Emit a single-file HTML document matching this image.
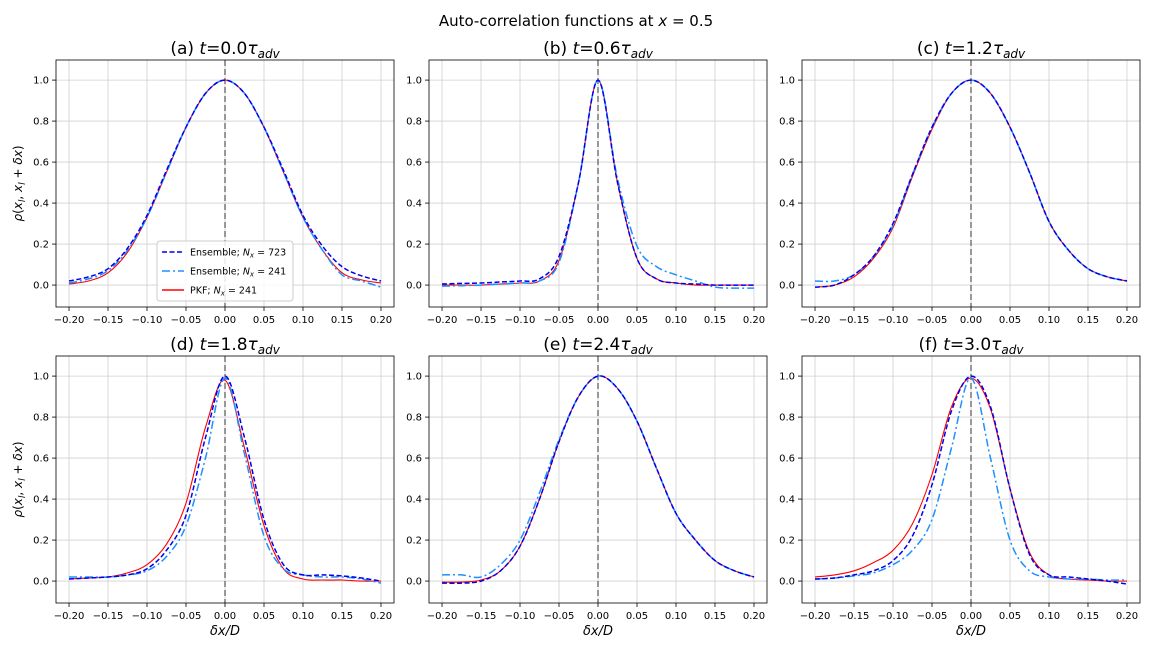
<!DOCTYPE html>
<html><head><meta charset="utf-8"><style>
body{margin:0;background:#fff;font-family:"Liberation Sans","DejaVu Sans",sans-serif}
svg text{font-family:"DejaVu Sans","Liberation Sans",sans-serif}
</style></head><body>
<svg id="fig" width="1152" height="648" xmlns="http://www.w3.org/2000/svg">
<rect width="1152" height="648" fill="#fff"/>
<text x="576" y="26" font-size="15" text-anchor="middle">Auto-correlation functions at <tspan font-style="italic">x</tspan> = 0.5</text>
</svg>
<script>
const xs=[-0.2,-0.175,-0.15,-0.125,-0.1,-0.075,-0.05,-0.025,0,0.025,0.05,0.075,0.1,0.125,0.15,0.175,0.2];
const xTicks=[-0.2,-0.15,-0.1,-0.05,0,0.05,0.1,0.15,0.2];
const xTickLabels=["−0.20","−0.15","−0.10","−0.05","0.00","0.05","0.10","0.15","0.20"];
const yTicks=[0,0.2,0.4,0.6,0.8,1.0];
const yTickLabels=["0.0","0.2","0.4","0.6","0.8","1.0"];
const panelTitles=["(a)","(b)","(c)","(d)","(e)","(f)"];
const panelTimes=["0.0","0.6","1.2","1.8","2.4","3.0"];
const ens723=[
[0.02,0.04,0.08,0.18,0.34,0.56,0.77,0.935,1,0.935,0.77,0.56,0.34,0.19,0.09,0.045,0.02],
[0.005,0.008,0.01,0.015,0.02,0.03,0.14,0.5,1,0.5,0.13,0.03,0.01,0.005,0,0,0],
[-0.01,0.0,0.05,0.14,0.3,0.54,0.77,0.935,1,0.935,0.77,0.55,0.31,0.17,0.08,0.04,0.02],
[0.01,0.015,0.02,0.03,0.06,0.15,0.32,0.7,1,0.7,0.3,0.08,0.03,0.03,0.025,0.015,0.0],
[-0.01,-0.01,0.0,0.05,0.17,0.4,0.68,0.9,1,0.94,0.78,0.55,0.33,0.2,0.1,0.05,0.02],
[0.01,0.015,0.03,0.05,0.1,0.22,0.47,0.83,1,0.85,0.45,0.13,0.03,0.02,0.01,0.0,-0.015]];
const ens241=[
[0.01,0.03,0.07,0.17,0.33,0.55,0.77,0.935,1,0.935,0.77,0.55,0.33,0.17,0.05,0.02,-0.01],
[-0.005,-0.003,0,0.005,0.01,0.02,0.11,0.5,1,0.52,0.19,0.09,0.05,0.02,-0.01,-0.015,-0.015],
[0.02,0.02,0.05,0.14,0.29,0.54,0.77,0.935,1,0.935,0.77,0.55,0.31,0.17,0.08,0.04,0.02],
[0.02,0.02,0.02,0.03,0.05,0.12,0.27,0.6,0.99,0.62,0.22,0.06,0.03,0.02,0.02,0.01,-0.01],
[0.03,0.03,0.02,0.08,0.2,0.43,0.69,0.9,1,0.94,0.78,0.55,0.33,0.2,0.1,0.05,0.02],
[0.01,0.015,0.025,0.04,0.08,0.15,0.3,0.65,0.99,0.6,0.2,0.05,0.02,0.01,0.01,0.005,0.005]];
const pkf=[
[0.005,0.02,0.06,0.16,0.33,0.55,0.77,0.935,1,0.935,0.77,0.55,0.33,0.17,0.06,0.025,0.01],
[0,0,0,0.005,0.01,0.02,0.12,0.5,1,0.5,0.13,0.03,0.01,0,0,0,0],
[-0.01,0.0,0.04,0.13,0.28,0.53,0.76,0.935,1,0.935,0.77,0.55,0.31,0.17,0.08,0.04,0.02],
[0.01,0.015,0.02,0.04,0.08,0.18,0.38,0.75,0.98,0.65,0.27,0.06,0.01,0.005,0.005,0.0,0.0],
[-0.005,-0.005,0.005,0.05,0.17,0.4,0.68,0.9,1,0.94,0.78,0.55,0.33,0.2,0.1,0.05,0.02],
[0.02,0.03,0.05,0.09,0.15,0.28,0.52,0.85,0.99,0.84,0.45,0.14,0.03,0.01,0.005,0,0]];
const NS="http://www.w3.org/2000/svg";
const svg=document.getElementById('fig');
function mk(t,a,p){const e=document.createElementNS(NS,t);for(const k in a)e.setAttribute(k,a[k]);(p||svg).appendChild(e);return e;}
const lefts=[56,429,802],tops=[60,356],W=338,H=247;
const xmin=-0.2167,xmax=0.2167,ymin=-0.107,ymax=1.098;
function smooth(pts){let d="M"+pts[0][0]+","+pts[0][1];
for(let i=0;i<pts.length-1;i++){const p0=pts[Math.max(i-1,0)],p1=pts[i],p2=pts[i+1],p3=pts[Math.min(i+2,pts.length-1)];
const c1=[p1[0]+(p2[0]-p0[0])/6,p1[1]+(p2[1]-p0[1])/6],c2=[p2[0]-(p3[0]-p1[0])/6,p2[1]-(p3[1]-p1[1])/6];
d+=" C"+c1[0].toFixed(1)+","+c1[1].toFixed(1)+" "+c2[0].toFixed(1)+","+c2[1].toFixed(1)+" "+p2[0].toFixed(1)+","+p2[1].toFixed(1);}return d;}
for(let p=0;p<6;p++){
 const L=lefts[p%3],T=tops[Math.floor(p/3)];
 const sx=v=>L+(v-xmin)/(xmax-xmin)*W, sy=v=>T+H-(v-ymin)/(ymax-ymin)*H;
 const g=mk('g',{});
 
 
 xTicks.forEach((v,i)=>{const x=sx(v);
  mk('line',{x1:x,x2:x,y1:T,y2:T+H,stroke:'#d0d0d0','stroke-width':0.8},g);
  mk('line',{x1:x,x2:x,y1:T+H,y2:T+H+4,stroke:'#000','stroke-width':0.8},g);
  const t=mk('text',{x:x,y:T+H+16,'font-size':10,'text-anchor':'middle'},g);t.textContent=xTickLabels[i];
  
  });
 yTicks.forEach((v,i)=>{const y=sy(v);
  mk('line',{x1:L,x2:L+W,y1:y,y2:y,stroke:'#d0d0d0','stroke-width':0.8},g);
  mk('line',{x1:L-4,x2:L,y1:y,y2:y,stroke:'#000','stroke-width':0.8},g);
  const t=mk('text',{x:L-7,y:y+3.5,'font-size':10,'text-anchor':'end'},g);t.textContent=yTickLabels[i];
  
  });
 mk('line',{x1:sx(0),x2:sx(0),y1:T,y2:T+H,stroke:'#777','stroke-width':1.5,'stroke-dasharray':'6,3'},g);
 const series=[[pkf[p],'#ff0000','',1.1,'pkf-line'],[ens241[p],'#1e90ff','8,3,2,3',1.5,'ensemble-241-line'],[ens723[p],'#0000ee','5,2.5',1.5,'ensemble-723-line']];
 series.forEach(s=>{const pts=xs.map((x,i)=>[sx(x),sy(s[0][i])]);
  const a={d:smooth(pts),fill:'none',stroke:s[1],'stroke-width':s[3]};if(s[2])a['stroke-dasharray']=s[2];
  const e=mk('path',a,g);
  
  });
 mk('rect',{x:L,y:T,width:W,height:H,fill:'none',stroke:'#000','stroke-width':0.8},g);
 const tt=mk('text',{x:L+W/2,y:T-6,'font-size':17,'text-anchor':'middle'},g);
 tt.innerHTML=panelTitles[p]+' <tspan font-style="italic">t</tspan>='+panelTimes[p]+'<tspan font-style="italic">τ</tspan><tspan font-style="italic" font-size="12" dy="4">adv</tspan>';
 
 
 if(p%3==0){const yl=mk('text',{x:0,y:0,'font-size':12,'text-anchor':'middle',transform:'translate(22,'+(T+H/2)+') rotate(-90)'},g);
  yl.innerHTML='<tspan font-style="italic">ρ</tspan>(<tspan font-style="italic">x</tspan><tspan font-size="9" dy="3" font-style="italic">l</tspan><tspan dy="-3">, </tspan><tspan font-style="italic">x</tspan><tspan font-size="9" dy="3" font-style="italic">l</tspan><tspan dy="-3"> + </tspan><tspan font-style="italic">δx</tspan>)';
  
  }
 if(p>=3){const xl=mk('text',{x:L+W/2,y:T+H+32,'font-size':13,'text-anchor':'middle','font-style':'italic'},g);
  xl.textContent='δx/D';
  
  }
}
const lg=mk('g',{});


mk('rect',{x:157,y:241,width:136,height:60,rx:3,fill:'#fff','fill-opacity':0.85,stroke:'#ccc'},lg);
const items=[['#0000ee','5,2.5','Ensemble; <tspan font-style="italic">N</tspan><tspan font-size="7" dy="2" font-style="italic">x</tspan><tspan dy="-2"> = 723</tspan>'],['#1e90ff','8,3,2,3','Ensemble; <tspan font-style="italic">N</tspan><tspan font-size="7" dy="2" font-style="italic">x</tspan><tspan dy="-2"> = 241</tspan>'],['#ff0000','','PKF; <tspan font-style="italic">N</tspan><tspan font-size="7" dy="2" font-style="italic">x</tspan><tspan dy="-2"> = 241</tspan>']];
items.forEach((it,i)=>{const y=252+i*19;
 const a={x1:162,x2:184,y1:y,y2:y,stroke:it[0],'stroke-width':1.5};if(it[1])a['stroke-dasharray']=it[1];mk('line',a,lg);
 const t=mk('text',{x:190,y:y+3.5,'font-size':9.5},lg);t.innerHTML=it[2];
 
 });
</script>
</body></html>
